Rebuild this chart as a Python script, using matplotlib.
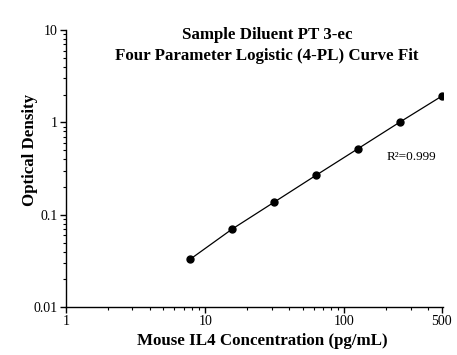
import matplotlib
matplotlib.use('Agg')
import matplotlib.pyplot as plt
from matplotlib.ticker import LogLocator, FixedLocator, FixedFormatter, NullFormatter

conc = [7.8, 15.6, 31.25, 62.5, 125, 250, 500]
od = [0.033, 0.070, 0.137, 0.268, 0.52, 1.01, 1.93]
xticks = [1, 10, 100, 500]
xticklabels = ['1', '10', '100', '500']
yticks = [0.01, 0.1, 1, 10]
yticklabels = ['0.01', '0.1', '1', '10']

plt.rcParams['font.family'] = 'Liberation Serif'

fig = plt.figure(figsize=(4.57, 3.55), dpi=100)
ax = fig.add_axes([0.1444, 0.135, 0.825, 0.780])

ax.plot(conc, od, color='black', lw=0.9, marker='o', ms=5, zorder=3)

ax.set_xscale('log')
ax.set_yscale('log')
ax.set_xlim(1, 510)
ax.set_ylim(0.01, 10)

ax.xaxis.set_major_locator(FixedLocator(xticks))
ax.xaxis.set_major_formatter(FixedFormatter(xticklabels))
ax.xaxis.set_minor_locator(LogLocator(base=10, subs=range(2, 10)))
ax.xaxis.set_minor_formatter(NullFormatter())
ax.yaxis.set_major_locator(FixedLocator(yticks))
ax.yaxis.set_major_formatter(FixedFormatter(yticklabels))
ax.yaxis.set_minor_locator(LogLocator(base=10, subs=range(2, 10)))
ax.yaxis.set_minor_formatter(NullFormatter())

for s in ['top', 'right']:
    ax.spines[s].set_visible(False)
for s in ['left', 'bottom']:
    ax.spines[s].set_linewidth(1.0)

ax.tick_params(which='major', direction='out', length=4, width=1, labelsize=10, pad=2)
ax.tick_params(which='minor', direction='out', length=2, width=0.8)

ax.set_xlabel('Mouse IL4 Concentration (pg/mL)', fontsize=12.2, fontweight='bold')
ax.xaxis.set_label_coords(0.52, -0.095)
ax.set_ylabel('Optical Density', fontsize=12.2, fontweight='bold')
ax.yaxis.set_label_coords(-0.075, 0.567)

ax.text(0.533, 1.012, 'Sample Diluent PT 3-ec\nFour Parameter Logistic (4-PL) Curve Fit',
        transform=ax.transAxes, ha='center', va='top', fontsize=12.2,
        fontweight='bold', linespacing=1.4)
ax.text(0.85, 0.53, 'R\u00b2=0.999', transform=ax.transAxes, fontsize=9.5)

fig.savefig('out.png', dpi=100)
